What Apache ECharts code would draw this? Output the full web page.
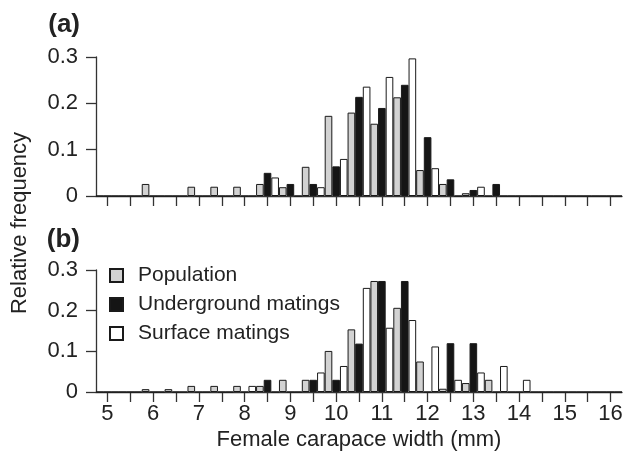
<!DOCTYPE html>
<html>
<head>
<meta charset="utf-8">
<script src="https://cdn.jsdelivr.net/npm/echarts@6/dist/echarts.min.js"></script>
<style>
html,body{margin:0;padding:0;background:#fff;}
#chart{width:631px;height:467px;}
</style>
</head>
<body>
<div id="chart"></div>
<script>
const categories = ['5','5.5','6','6.5','7','7.5','8','8.5','9','9.5','10','10.5','11','11.5','12','12.5','13','13.5','14','14.5','15','15.5','16'];
const yTicks = [0, 0.1, 0.2, 0.3];
const seriesNames = ['Population', 'Underground matings', 'Surface matings'];

// Panel (a)
const popA = [0,0,0.026,0,0.020,0.020,0.020,0.026,0.019,0.063,0.173,0.180,0.156,0.213,0.056,0.026,0.006,0,0,0,0,0,0];
const undA = [0,0,0,0,0,0,0,0.050,0.026,0.026,0.064,0.214,0.190,0.240,0.127,0.036,0.013,0.026,0,0,0,0,0];
const surA = [0,0,0,0,0,0,0,0.040,0,0.019,0.080,0.236,0.257,0.297,0.060,0,0.020,0,0,0,0,0,0];

// Panel (b)
const popB = [0,0,0.007,0.007,0.015,0.015,0.015,0.015,0.030,0.030,0.101,0.154,0.273,0.207,0.075,0.008,0.022,0.030,0,0,0,0,0];
const undB = [0,0,0,0,0,0,0,0.030,0,0.030,0.030,0.119,0.273,0.273,0,0.120,0.120,0,0,0,0,0,0];
const surB = [0,0,0,0,0,0,0.015,0,0,0.048,0.064,0.256,0.158,0.177,0.112,0.030,0.048,0.064,0.030,0,0,0,0];

const FONT = 'Liberation Sans';
const INK = '#222';
const fills = ['#d2d2d2', '#151515', '#ffffff'];

function xAxisFor(gi, showLabels) {
  return {
    type: 'category', gridIndex: gi, data: categories, boundaryGap: true,
    axisLine: { lineStyle: { color: '#333', width: 1.3 } },
    axisTick: { show: true, alignWithLabel: true, interval: 0, length: 10, lineStyle: { color: '#333', width: 1.3 } },
    axisLabel: { show: showLabels, interval: 1, fontSize: 22, color: INK, fontFamily: FONT, margin: 11 },
    splitLine: { show: false },
    name: showLabels ? 'Female carapace width (mm)' : '',
    nameLocation: 'middle', nameGap: 37,
    nameTextStyle: { fontSize: 22, color: INK, fontFamily: FONT }
  };
}
function yAxisFor(gi) {
  return {
    type: 'value', gridIndex: gi, min: yTicks[0], max: yTicks[yTicks.length - 1], interval: 0.1,
    axisLine: { show: true, lineStyle: { color: '#333', width: 1.3 } },
    axisTick: { show: true, length: 10, lineStyle: { color: '#333', width: 1.3 } },
    axisLabel: { fontSize: 22, color: INK, fontFamily: FONT, margin: 18,
      formatter: v => v === 0 ? '0' : v.toFixed(1) },
    splitLine: { show: false }
  };
}
function bar(name, data, gi, idx) {
  return {
    name: name, type: 'bar', xAxisIndex: gi, yAxisIndex: gi, data: data,
    barGap: '0%', barCategoryGap: '0%',
    itemStyle: { color: fills[idx], borderColor: '#1a1a1a', borderWidth: 1 },
    silent: true, animation: false
  };
}

const chart = echarts.init(document.getElementById('chart'), null, { renderer: 'canvas' });
chart.setOption({
  animation: false,
  backgroundColor: '#fff',
  textStyle: { fontFamily: FONT },
  grid: [
    { left: 96, top: 57, width: 526, height: 139, containLabel: false },
    { left: 96, top: 270, width: 526, height: 122, containLabel: false }
  ],
  xAxis: [xAxisFor(0, false), xAxisFor(1, true)],
  yAxis: [yAxisFor(0), yAxisFor(1)],
  legend: {
    data: seriesNames, orient: 'vertical', left: 104, top: 260,
    icon: 'rect', itemWidth: 13, itemHeight: 13, itemGap: 8,
    textStyle: { fontSize: 21, color: INK, fontFamily: FONT, padding: [0, 0, 0, 10] },
    selectedMode: false
  },
  graphic: [
    { type: 'text', x: 80, y: 25, style: { text: '(a)', fontSize: 26, fontWeight: 'bold', fill: INK, fontFamily: FONT, align: 'right', verticalAlign: 'middle' } },
    { type: 'text', x: 80, y: 240, style: { text: '(b)', fontSize: 26, fontWeight: 'bold', fill: INK, fontFamily: FONT, align: 'right', verticalAlign: 'middle' } },
    { type: 'text', x: 20, y: 223, rotation: Math.PI / 2,
      style: { text: 'Relative frequency', fontSize: 22, fill: INK, fontFamily: FONT, align: 'center', verticalAlign: 'middle' } }
  ],
  series: [
    bar(seriesNames[0], popA, 0, 0), bar(seriesNames[1], undA, 0, 1), bar(seriesNames[2], surA, 0, 2),
    bar(seriesNames[0], popB, 1, 0), bar(seriesNames[1], undB, 1, 1), bar(seriesNames[2], surB, 1, 2)
  ]
});
</script>
</body>
</html>
